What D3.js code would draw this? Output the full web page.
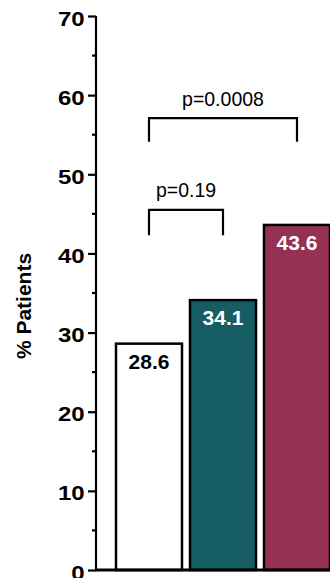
<!DOCTYPE html>
<html lang="en">
<head>
  <meta charset="UTF-8">
  <title>% Patients bar chart</title>
  <script src="https://d3js.org/d3.v7.min.js"></script>
  <style>
    body { margin: 0; background: #fff; }
    svg { display: block; font-family: "Liberation Sans", Arial, sans-serif; }
  </style>
</head>
<body>
  <svg id="chart"></svg>

  <script>
    // Data
    const categories = ["Group 1", "Group 2", "Group 3"];
    const values = [28.6, 34.1, 43.6];
    const fills = ["#ffffff", "#155d63", "#953152"];
    const labelColors = ["#000000", "#ffffff", "#ffffff"];
    const yTicks = [0, 10, 20, 30, 40, 50, 60, 70];
    const yMinorTicks = [5, 15, 25, 35, 45, 55, 65];

    // comparisons: [from index, to index, top of bracket, foot of bracket, label]
    const comparisons = [
      { from: 0, to: 1, top: 45.5, foot: 42.3, label: "p=0.19" },
      { from: 0, to: 2, top: 57.1, foot: 54.1, label: "p=0.0008" }
    ];

    const width = 330, height = 578;

    const svg = d3.select("#chart")
      .attr("width", width)
      .attr("height", height);

    const x = d3.scaleBand()
      .domain(categories)
      .range([112, 334])
      .paddingInner(0.108)
      .paddingOuter(0.054);

    const y = d3.scaleLinear()
      .domain([0, 70])
      .range([570, 16]);

    const axisX = 96;

    // Bars
    svg.selectAll("rect.bar")
      .data(values)
      .enter().append("rect")
      .attr("class", "bar")
      .attr("x", (d, i) => x(categories[i]))
      .attr("y", d => y(d))
      .attr("width", x.bandwidth())
      .attr("height", d => y(0) - y(d))
      .attr("fill", (d, i) => fills[i])
      .attr("stroke", "#000")
      .attr("stroke-width", 2.5);

    // Value labels
    svg.selectAll("text.val")
      .data(values)
      .enter().append("text")
      .attr("class", "val")
      .attr("x", (d, i) => x(categories[i]) + x.bandwidth() / 2)
      .attr("y", d => y(d) + 25)
      .attr("text-anchor", "middle")
      .attr("fill", (d, i) => labelColors[i])
      .style("font-size", "21px")
      .style("font-weight", "bold")
      .text(d => d.toFixed(1));

    // Y axis
    const yAxis = svg.append("g")
      .attr("transform", `translate(${axisX},0)`)
      .call(d3.axisLeft(y).tickValues(yTicks).tickSize(8).tickPadding(0));
    yAxis.select(".domain").attr("stroke-width", 2.2).attr("d", `M0,${y(70)}V${y(0)}`);
    yAxis.selectAll(".tick line").attr("stroke-width", 2.2);
    yAxis.selectAll(".tick text")
      .attr("x", -9.5)
      .attr("dy", null)
      .attr("y", 9)
      .attr("transform", "scale(1.2,1)")
      .attr("fill", "#000")
      .style("font-size", "20px")
      .style("font-weight", "bold")
      .style("font-family", "'Liberation Sans', Arial, sans-serif");

    svg.append("g")
      .selectAll("line")
      .data(yMinorTicks)
      .enter().append("line")
      .attr("x1", axisX - 4)
      .attr("x2", axisX)
      .attr("y1", d => y(d))
      .attr("y2", d => y(d))
      .attr("stroke", "#000")
      .attr("stroke-width", 2.2);

    // X baseline
    svg.append("line")
      .attr("x1", axisX - 1)
      .attr("x2", width)
      .attr("y1", y(0))
      .attr("y2", y(0))
      .attr("stroke", "#000")
      .attr("stroke-width", 3);

    // Y title
    svg.append("text")
      .attr("transform", `translate(31,306) rotate(-90)`)
      .attr("text-anchor", "middle")
      .style("font-size", "21px")
      .style("font-weight", "bold")
      .text("% Patients");

    // Significance brackets
    const cx = i => x(categories[i]) + x.bandwidth() / 2;
    const br = svg.append("g");
    comparisons.forEach(c => {
      br.append("path")
        .attr("d", `M${cx(c.from)},${y(c.foot)}V${y(c.top)}H${cx(c.to)}V${y(c.foot)}`)
        .attr("fill", "none")
        .attr("stroke", "#000")
        .attr("stroke-width", 2.2);
      br.append("text")
        .attr("x", (cx(c.from) + cx(c.to)) / 2)
        .attr("y", y(c.top) - 12.5)
        .attr("text-anchor", "middle")
        .style("font-size", "19.5px")
        .text(c.label);
    });
  </script>
</body>
</html>
